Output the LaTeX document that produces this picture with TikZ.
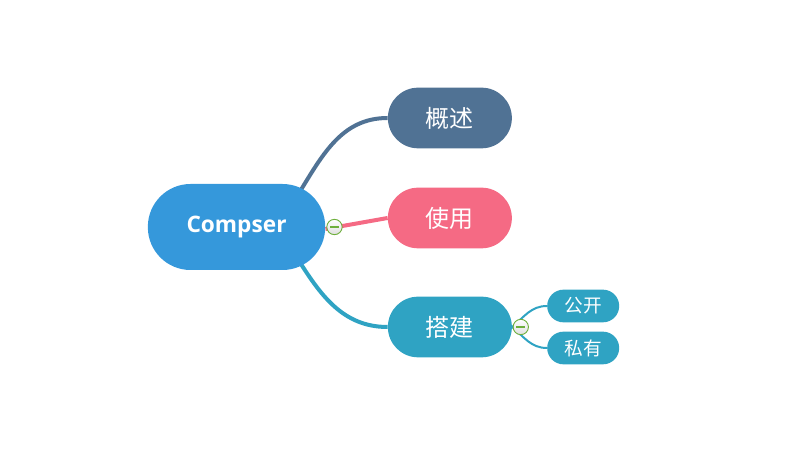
\documentclass[tikz,border=0pt]{standalone}
\usepackage{fontspec}
\setmainfont{Open Sans}
\newfontfamily\cjk{Noto Sans CJK SC}
\usetikzlibrary{positioning, backgrounds, calc}
\definecolor{rootblue}{RGB}{53,152,219}
\definecolor{slate}{RGB}{80,114,148}
\definecolor{rose}{RGB}{245,106,132}
\definecolor{tealblue}{RGB}{47,163,195}
\definecolor{foldgreen}{RGB}{110,175,60}

\begin{document}
\begin{tikzpicture}[
    x=1pt, y=1pt,
    root/.style={
        rectangle, rounded corners=32pt, fill=rootblue, text=white,
        minimum width=133pt, minimum height=64.5pt, font=\fontsize{17}{20}\selectfont\bfseries
    },
    topic/.style={
        rectangle, rounded corners=22.7pt, text=white,
        minimum width=93pt, minimum height=45.5pt, font=\fontsize{18}{21}\selectfont\cjk
    },
    sub/.style={
        rectangle, rounded corners=12.2pt, fill=tealblue, text=white,
        minimum width=54pt, minimum height=24.5pt, font=\fontsize{14}{16}\selectfont\cjk
    },
    fold/.style={
        circle, draw=foldgreen, line width=0.7pt, inner sep=0pt, minimum size=11.5pt,
        top color=white, bottom color=gray!25,
        path picture={\draw[foldgreen, line width=0.9pt]
            ([xshift=-3.5pt]path picture bounding box.center) -- ([xshift=3.5pt]path picture bounding box.center);}
    },
    lnk/.style={line width=3pt},
    sublnk/.style={line width=1.5pt, tealblue}
]
\useasboundingbox (-177.4,-169.5) rectangle (418.1,170.25);

\node[root] (root) at (0,0) {Compser};
\node[topic, fill=slate] (gaishu) at (160,81.75) {概述};
\node[topic, fill=rose] (shiyong) at (160,6.75) {使用};
\node[topic, fill=tealblue] (dajian) at (160,-75) {搭建};
\node[sub] (gongkai) at (260,-59.25) {公开};
\node[sub] (siyou) at (260,-90.75) {私有};
\node[fold] (fold1) at ([xshift=6.75pt]root.east) {};
\node[fold] (fold2) at ([xshift=6.5pt]dajian.east) {};

% branches
\begin{scope}[on background layer]
\draw[lnk, slate] ($(root.east)+(-22,22)$) to[out=58, in=180] (gaishu.west);
\draw[lnk, rose] ([yshift=-1.5pt]root.east) -- (shiyong.west);
\draw[lnk, tealblue] ($(root.east)+(-22,-22)$) to[out=-58, in=180] (dajian.west);
\draw[sublnk] (dajian.east) to[out=40, in=180] (gongkai.west);
\draw[sublnk] (dajian.east) to[out=-40, in=180] (siyou.west);
\end{scope}

\end{tikzpicture}
\end{document}
